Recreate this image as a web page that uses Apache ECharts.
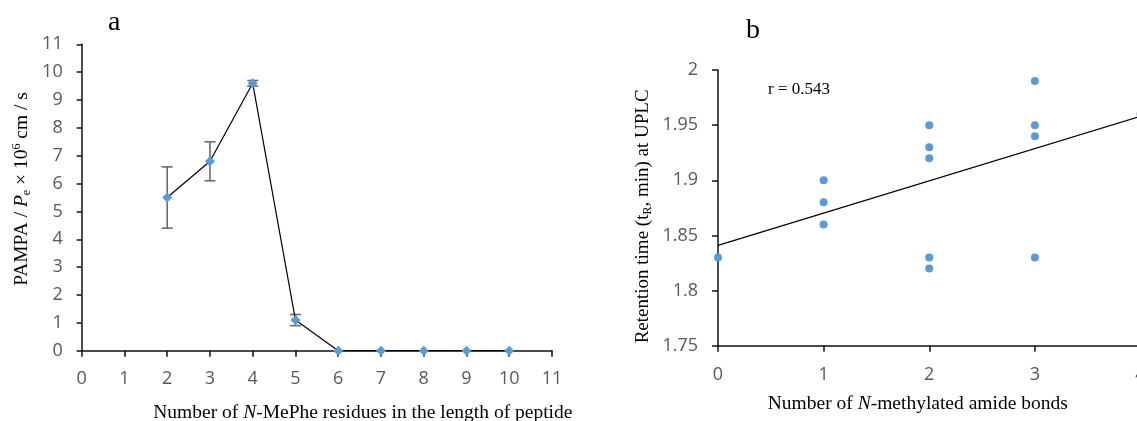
<!DOCTYPE html>
<html>
<head>
<meta charset="utf-8">
<script src="https://cdn.jsdelivr.net/npm/echarts@6/dist/echarts.min.js"></script>
<style>
  html, body {margin:0;padding:0;background:#fff;}
  #chart {width:1137px;height:421px;}
</style>
</head>
<body>
<div id="chart"></div>
<script>
    // panel a : PAMPA vs number of N-MePhe residues
    var aX = [2, 3, 4, 5, 6, 7, 8, 9, 10];
    var aY = [5.5, 6.8, 9.6, 1.1, 0, 0, 0, 0, 0];
    var aErr = [1.1, 0.7, 0.1, 0.2, 0, 0, 0, 0, 0];

    // panel b : retention time vs number of N-methylated amide bonds
    var bX = [0, 1, 1, 1, 2, 2, 2, 2, 2, 3, 3, 3, 3, 4];
    var bY = [1.83, 1.90, 1.88, 1.86, 1.95, 1.93, 1.92, 1.83, 1.82, 1.99, 1.95, 1.94, 1.83, 1.96];
    // trend line end points
    var fitX = [0, 4];
    var fitY = [1.841, 1.958];

    var blue = '#5b9bd5';
    var gray = '#595959';
    var serif = '"Liberation Serif", "Times New Roman", serif';
    var sans = '"Open Sans", sans-serif';

    var pairs = function (xs, ys) {
        var out = [];
        for (var i = 0; i < xs.length; i++) out.push([xs[i], ys[i]]);
        return out;
    };
    var errData = [];
    for (var i = 0; i < aX.length; i++) {
        if (aErr[i] > 0) errData.push([aX[i], aY[i] - aErr[i], aY[i] + aErr[i]]);
    }

    var axisLine = {show: true, lineStyle: {color: '#111', width: 1.5}};
    var axisTick = {show: true, inside: false, length: 6, lineStyle: {color: '#111', width: 1.5}};
    var labelStyle = {color: gray, fontFamily: sans, fontSize: 18};
    var nameRich = function (size) {
        return {
            t: {fontFamily: serif, fontSize: size, color: '#000', lineHeight: 22},
            i: {fontFamily: serif, fontSize: size, color: '#000', fontStyle: 'italic', lineHeight: 22},
            sub: {fontFamily: serif, fontSize: 12, color: '#000', verticalAlign: 'bottom', lineHeight: 22},
            sup: {fontFamily: serif, fontSize: 12, color: '#000', verticalAlign: 'top', lineHeight: 22}
        };
    };

    var myChart = echarts.init(document.getElementById('chart'), null, {renderer: 'canvas'});
    var option = {
        animation: false,
        backgroundColor: '#fff',
        grid: [
            {left: 81.7, width: 470.3, top: 44.3, height: 306.4, containLabel: false, outerBoundsMode: 'none'},
            {left: 718, width: 422.5, top: 70, height: 275.7, containLabel: false, outerBoundsMode: 'none'}
        ],
        graphic: [
            {type: 'text', left: 108, top: 9, style: {text: 'a', font: '28px ' + serif, fill: '#000'}},
            {type: 'text', left: 746, top: 17, style: {text: 'b', font: '28px ' + serif, fill: '#000'}},
            {type: 'text', left: 768, top: 81, style: {text: 'r = 0.543', font: '17px ' + serif, fill: '#000'}}
        ],
        xAxis: [
            {
                gridIndex: 0, type: 'value', min: 0, max: 11, interval: 1,
                axisLine: axisLine, axisTick: axisTick, splitLine: {show: false},
                axisLabel: Object.assign({margin: 19}, labelStyle),
                name: '{t|Number of }{i|N}{t|-MePhe residues in the length of peptide}',
                nameLocation: 'middle', nameGap: 51,
                nameTextStyle: {padding: [0, 0, 0, 92], rich: nameRich(19.5)}
            },
            {
                gridIndex: 1, type: 'value', min: 0, max: 4, interval: 1,
                axisLine: axisLine, axisTick: axisTick, splitLine: {show: false},
                axisLabel: Object.assign({margin: 20}, labelStyle),
                name: '{t|Number of }{i|N}{t|-methylated amide bonds}',
                nameLocation: 'middle', nameGap: 47,
                nameTextStyle: {padding: [0, 23, 0, 0], rich: nameRich(19.5)}
            }
        ],
        yAxis: [
            {
                gridIndex: 0, type: 'value', min: 0, max: 11, interval: 1,
                axisLine: axisLine, axisTick: Object.assign({}, axisTick, {length: 5}),
                splitLine: {show: false},
                axisLabel: Object.assign({margin: 19}, labelStyle),
                name: '{t|PAMPA / }{i|P}{sub|e}{t| × 10}{sup|6}{t| cm / s}',
                nameLocation: 'middle', nameGap: 49,
                nameTextStyle: {padding: [0, 0, 0, 17], rich: nameRich(19.5)}
            },
            {
                gridIndex: 1, type: 'value', min: 1.75, max: 2, interval: 0.05,
                axisLine: axisLine, axisTick: axisTick, splitLine: {show: false},
                axisLabel: Object.assign({
                    margin: 20,
                    formatter: function (v) { return String(+v.toFixed(2)); }
                }, labelStyle),
                name: '{t|Retention time (t}{sub|R}{t|, min) at UPLC}',
                nameLocation: 'middle', nameGap: 64,
                nameTextStyle: {padding: [0, 17, 0, 0], rich: nameRich(19)}
            }
        ],
        series: [
            {
                type: 'custom',
                xAxisIndex: 0, yAxisIndex: 0,
                data: errData,
                z: 3,
                renderItem: function (params, api) {
                    var lo = api.coord([api.value(0), api.value(1)]);
                    var hi = api.coord([api.value(0), api.value(2)]);
                    var w = 5.5;
                    var st = {stroke: '#6b6b6b', lineWidth: 1.6};
                    return {
                        type: 'group',
                        children: [
                            {type: 'line', shape: {x1: lo[0], y1: lo[1], x2: hi[0], y2: hi[1]}, style: st},
                            {type: 'line', shape: {x1: lo[0] - w, y1: lo[1], x2: lo[0] + w, y2: lo[1]}, style: st},
                            {type: 'line', shape: {x1: hi[0] - w, y1: hi[1], x2: hi[0] + w, y2: hi[1]}, style: st}
                        ]
                    };
                }
            },
            {
                type: 'line',
                xAxisIndex: 0, yAxisIndex: 0,
                data: pairs(aX, aY),
                symbol: 'diamond', symbolSize: 10,
                lineStyle: {color: '#000', width: 1.2},
                itemStyle: {color: blue},
                z: 4
            },
            {
                type: 'line',
                xAxisIndex: 1, yAxisIndex: 1,
                data: pairs(fitX, fitY),
                showSymbol: false,
                lineStyle: {color: '#000', width: 1.2},
                z: 3
            },
            {
                type: 'scatter',
                xAxisIndex: 1, yAxisIndex: 1,
                data: pairs(bX, bY),
                symbol: 'circle', symbolSize: 8,
                itemStyle: {color: blue, opacity: 1},
                clip: false,
                z: 4
            }
        ]
    };
    myChart.setOption(option, true);
</script>
</body>
</html>
